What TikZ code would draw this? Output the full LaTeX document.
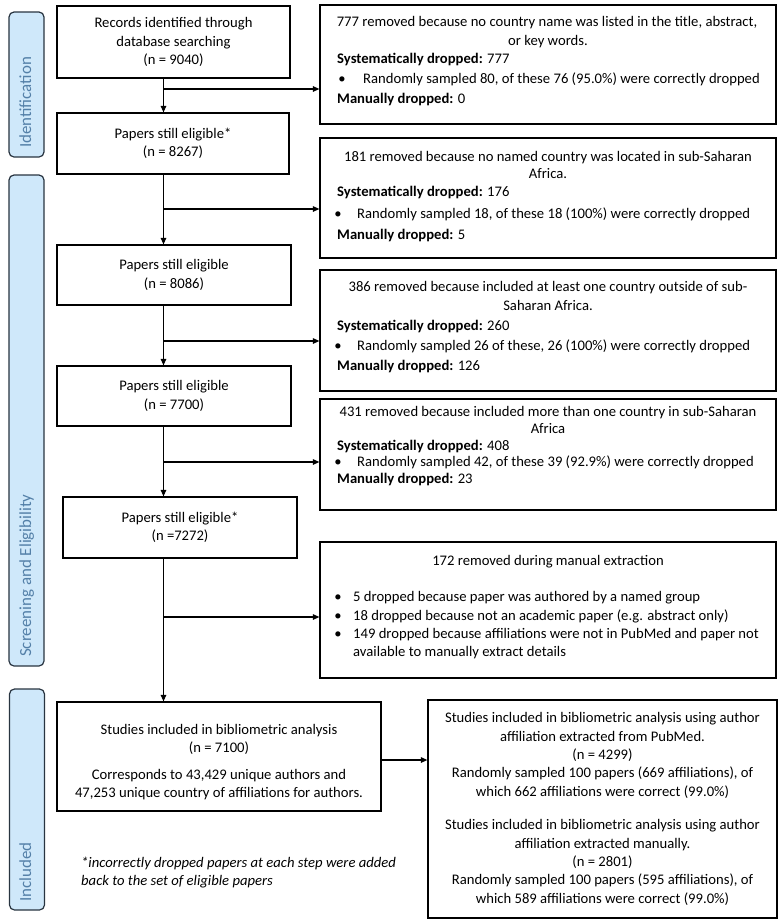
\documentclass[tikz,border=0pt]{standalone}
\usepackage{fontspec}
\setmainfont{Carlito}
\usetikzlibrary{arrows.meta}
\definecolor{sidefill}{RGB}{207,232,250}
\definecolor{sidetext}{RGB}{84,128,168}
\definecolor{sideline}{RGB}{40,52,64}
\newcommand{\mfs}{\fontsize{14.7}{18.4}\selectfont}
\tikzset{
  lbox/.style={draw, line width=1.2bp, inner sep=0pt, align=center, font=\mfs},
  sidebar/.style={draw=sideline, fill=sidefill, line width=1.2bp, rounded corners=5bp, minimum width=35bp},
  sidetxt/.style={text=sidetext, font=\fontsize{17}{19}\selectfont, inner sep=0pt, rotate=90, anchor=west, text height=12bp, text depth=4bp},
  txt/.style={font=\mfs, inner sep=0pt, text height=10.5bp, text depth=3.5bp},
  txtm/.style={font=\mfs, inner sep=0pt, align=center},
  arr/.style={line width=1.1bp, -{Triangle[length=6.5bp,width=5.5bp]}}
}
\begin{document}
\begin{tikzpicture}[x=1bp,y=-1bp]
\useasboundingbox (0,0) rectangle (784,920);

% side bars
\node[sidebar, minimum height=145bp] (sid1) at (26.5,84.5) {};
\node[sidebar, minimum height=491bp] (sid2) at (26.5,420.5) {};
\node[sidebar, minimum height=221bp] (sid3) at (27,799.5) {};
\node[sidetxt] (sidt1) at (27,148) {Identification};
\node[sidetxt] (sidt2) at (27,657) {Screening and Eligibility};
\node[sidetxt] (sidt3) at (27,902) {Included};

% left column
\node[lbox, minimum width=233bp, minimum height=72bp] (rec) at (173.5,42) {Records identified through\\database searching\\(n = 9040)};
\node[lbox, minimum width=232bp, minimum height=61bp] (p1) at (173,143.5) {Papers still eligible*\\(n = 8267)};
\node[lbox, minimum width=234bp, minimum height=60bp] (p2) at (174,275) {Papers still eligible\\(n = 8086)};
\node[lbox, minimum width=234bp, minimum height=60bp] (p3) at (174,396) {Papers still eligible\\(n = 7700)};
\node[lbox, minimum width=234bp, minimum height=61bp] (p4) at (180,527.5) {Papers still eligible*\\(n =7272)};
\node[lbox, minimum width=324bp, minimum height=109bp] (st) at (219,756.5) {};
\node[txtm] (stt) at (219,762) {Studies included in bibliometric analysis\\(n = 7100)\\[8.5bp]Corresponds to 43,429 unique authors and\\47,253 unique country of affiliations for authors.};

% right column boxes
\node[lbox, minimum width=456bp, minimum height=119bp] (r1) at (548,64.5) {};
\node[lbox, minimum width=456bp, minimum height=120bp] (r2) at (548,198) {};
\node[lbox, minimum width=456bp, minimum height=121bp] (r3) at (548,330.5) {};
\node[lbox, minimum width=456bp, minimum height=111bp] (r4) at (548,454.5) {};
\node[lbox, minimum width=456bp, minimum height=136bp] (r5) at (548,610) {};
\node[lbox, minimum width=349bp, minimum height=218bp] (fin) at (602.5,809) {Studies included in bibliometric analysis using author\\affiliation extracted from PubMed.\\(n = 4299)\\Randomly sampled 100 papers (669 affiliations), of\\which 662 affiliations were correct (99.0\%)\\[15.5bp]Studies included in bibliometric analysis using author\\affiliation extracted manually.\\(n = 2801)\\Randomly sampled 100 papers (595 affiliations), of\\which 589 affiliations were correct (99.0\%)};

% box 1 text
\node[txt] (t11) at (547,23) {777 removed because no country name was listed in the title, abstract,};
\node[txt] (t12) at (548,42) {or key words.};
\node[txt, anchor=west] (t13) at (337,60) {\textbf{Systematically dropped:} 777};
\node[txt] (t14b) at (342,80) {•};
\node[txt, anchor=west] (t14) at (363,80) {Randomly sampled 80, of these 76 (95.0\%) were correctly dropped};
\node[txt, anchor=west] (t15) at (337,100) {\textbf{Manually dropped:} 0};

% box 2 text
\node[txt] (t21) at (548,158) {181 removed because no named country was located in sub-Saharan};
\node[txt] (t22) at (548,175) {Africa.};
\node[txt, anchor=west] (t23) at (337,193) {\textbf{Systematically dropped:} 176};
\node[txt] (t24b) at (338,215) {•};
\node[txt, anchor=west] (t24) at (357,215) {Randomly sampled 18, of these 18 (100\%) were correctly dropped};
\node[txt, anchor=west] (t25) at (337,236) {\textbf{Manually dropped:} 5};

% box 3 text
\node[txt] (t31) at (548,288) {386 removed because included at least one country outside of sub-};
\node[txt] (t32) at (548,307) {Saharan Africa.};
\node[txt, anchor=west] (t33) at (337,327) {\textbf{Systematically dropped:} 260};
\node[txt] (t34b) at (338,347) {•};
\node[txt, anchor=west] (t34) at (357,347) {Randomly sampled 26 of these, 26 (100\%) were correctly dropped};
\node[txt, anchor=west] (t35) at (337,367) {\textbf{Manually dropped:} 126};

% box 4 text
\node[txt] (t41) at (548,413) {431 removed because included more than one country in sub-Saharan};
\node[txt] (t42) at (548,430) {Africa};
\node[txt, anchor=west] (t43) at (337,447) {\textbf{Systematically dropped:} 408};
\node[txt] (t44b) at (338,463) {•};
\node[txt, anchor=west] (t44) at (357,463) {Randomly sampled 42, of these 39 (92.9\%) were correctly dropped};
\node[txt, anchor=west] (t45) at (337,480) {\textbf{Manually dropped:} 23};

% box 5 text
\node[txt] (t51) at (548,562) {172 removed during manual extraction};
\node[txt] (t52b) at (338,598) {•};
\node[txt, anchor=west] (t52) at (353,598) {5 dropped because paper was authored by a named group};
\node[txt] (t53b) at (338,617) {•};
\node[txt, anchor=west] (t53) at (353,617) {18 dropped because not an academic paper (e.g. abstract only)};
\node[txt] (t54b) at (338,635) {•};
\node[txt, anchor=west] (t54) at (353,635) {149 dropped because affiliations were not in PubMed and paper not};
\node[txt, anchor=west] (t55) at (353,653) {available to manually extract details};

% footnote
\node[txt, anchor=west, font=\mfs\itshape] (fn1) at (81,864) {*incorrectly dropped papers at each step were added};
\node[txt, anchor=west, font=\mfs\itshape] (fn2) at (81,882) {back to the set of eligible papers};

% connectors
\coordinate (sp) at (163.5,0);
\draw[arr] (rec.south -| sp) -- (p1.north -| sp);
\draw[arr] (p1.south -| sp) -- (p2.north -| sp);
\draw[arr] (p2.south -| sp) -- (p3.north -| sp);
\draw[arr] (p3.south -| sp) -- (p4.north -| sp);
\draw[arr] (p4.south -| sp) -- (st.north -| sp);

\coordinate (b1) at (163.5,89);
\coordinate (b2) at (163.5,209);
\coordinate (b3) at (163.5,341);
\coordinate (b4) at (163.5,462);
\coordinate (b5) at (163.5,617);
\coordinate (b6) at (381,760);
\draw[arr] (b1) -- (b1 -| r1.west);
\draw[arr] (b2) -- (b2 -| r2.west);
\draw[arr] (b3) -- (b3 -| r3.west);
\draw[arr] (b4) -- (b4 -| r4.west);
\draw[arr] (b5) -- (b5 -| r5.west);
\draw[arr] (b6) -- (b6 -| fin.west);
\end{tikzpicture}
\end{document}
